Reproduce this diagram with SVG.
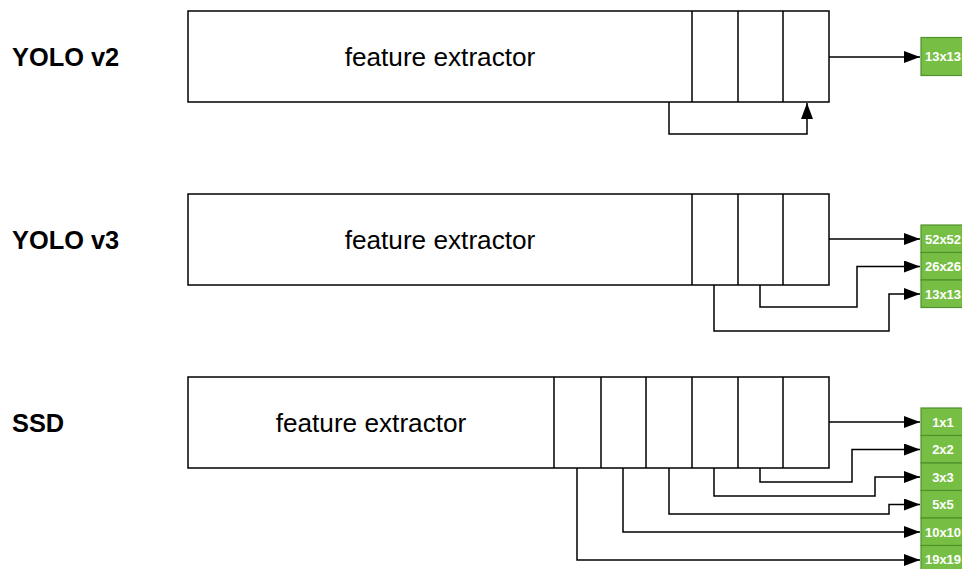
<svg xmlns="http://www.w3.org/2000/svg" width="962" height="569" viewBox="0 0 962 569">
  <style>
    .blk { fill: #ffffff; stroke: #000000; stroke-width: 1.5; }
    .div { stroke: #000000; stroke-width: 1.5; fill: none; }
    .cell { fill: #77bf44; stroke: #4e922b; stroke-width: 1.2; }
    .cell-t { fill: #ffffff; font-family: "Liberation Sans", Arial, sans-serif; font-weight: bold; font-size: 13px; text-anchor: middle; dominant-baseline: central; }
    .name { fill: #000000; font-family: "Liberation Sans", Arial, sans-serif; font-weight: bold; font-size: 25.4px; }
    .fe { fill: #000000; font-family: "Liberation Sans", Arial, sans-serif; font-size: 26.2px; text-anchor: middle; dominant-baseline: central; }
    .wire { fill: none; stroke: #000000; stroke-width: 1.5; marker-end: url(#arr); }
  </style>
  <defs>
    <marker id="arr" markerUnits="userSpaceOnUse" markerWidth="17" markerHeight="13" refX="16" refY="6" orient="auto">
      <path d="M0,0 L16,6 L0,12 Z" fill="#000000"/>
    </marker>
  </defs>
  <rect width="962" height="569" fill="#ffffff"/>

  <!-- YOLO v2 -->
  <g id="yolov2-label"><text class="name" x="12" y="66">YOLO v2</text></g>
  <g id="yolov2-net">
    <rect class="blk" x="188" y="11" width="641" height="91"/>
    <path class="div" d="M692,11 V102 M738,11 V102 M783,11 V102"/>
    <text class="fe" x="440" y="57">feature extractor</text>
  </g>
  <g id="yolov2-out">
    <rect class="cell" x="921" y="37.5" width="44" height="38"/>
    <text class="cell-t" x="943" y="56.5">13x13</text>
  </g>

  <!-- YOLO v3 -->
  <g id="yolov3-label"><text class="name" x="12" y="249">YOLO v3</text></g>
  <g id="yolov3-net">
    <rect class="blk" x="188" y="194" width="641" height="91"/>
    <path class="div" d="M692,194 V285 M738,194 V285 M783,194 V285"/>
    <text class="fe" x="440" y="240">feature extractor</text>
  </g>
  <g id="yolov3-out">
    <rect class="cell" x="921" y="225" width="44" height="27.5"/>
    <rect class="cell" x="921" y="252.5" width="44" height="27.5"/>
    <rect class="cell" x="921" y="280" width="44" height="27.5"/>
    <text class="cell-t" x="943" y="239">52x52</text>
    <text class="cell-t" x="943" y="266.5">26x26</text>
    <text class="cell-t" x="943" y="294">13x13</text>
  </g>

  <!-- SSD -->
  <g id="ssd-label"><text class="name" x="12" y="432">SSD</text></g>
  <g id="ssd-net">
    <rect class="blk" x="188" y="377" width="641" height="91"/>
    <path class="div" d="M554,377 V468 M601,377 V468 M646,377 V468 M692,377 V468 M738,377 V468 M783,377 V468"/>
    <text class="fe" x="371" y="423">feature extractor</text>
  </g>
  <g id="ssd-out">
    <rect class="cell" x="921" y="408" width="44" height="27.5"/>
    <rect class="cell" x="921" y="435.5" width="44" height="27.5"/>
    <rect class="cell" x="921" y="463" width="44" height="27.5"/>
    <rect class="cell" x="921" y="490.5" width="44" height="27.5"/>
    <rect class="cell" x="921" y="518" width="44" height="27.5"/>
    <rect class="cell" x="921" y="545.5" width="44" height="27.5"/>
    <text class="cell-t" x="943" y="422">1x1</text>
    <text class="cell-t" x="943" y="449.5">2x2</text>
    <text class="cell-t" x="943" y="477">3x3</text>
    <text class="cell-t" x="943" y="504.5">5x5</text>
    <text class="cell-t" x="943" y="532">10x10</text>
    <text class="cell-t" x="943" y="559.5">19x19</text>
  </g>

  <!-- connectors -->
  <g id="connectors">
    <path class="wire" d="M829,57 H920"/>
    <path class="wire" d="M669,102 V134 H807 V103"/>

    <path class="wire" d="M829,239 H920"/>
    <path class="wire" d="M760,285 V307 H857 V266.5 H920"/>
    <path class="wire" d="M714,285 V331 H889 V294 H920"/>

    <path class="wire" d="M829,422 H920"/>
    <path class="wire" d="M760,468 V482 H852 V449.5 H920"/>
    <path class="wire" d="M714,468 V496 H875 V477 H920"/>
    <path class="wire" d="M669,468 V514 H889 V504.5 H920"/>
    <path class="wire" d="M623,468 V532 H920"/>
    <path class="wire" d="M577,468 V560 H920"/>
  </g>
</svg>
